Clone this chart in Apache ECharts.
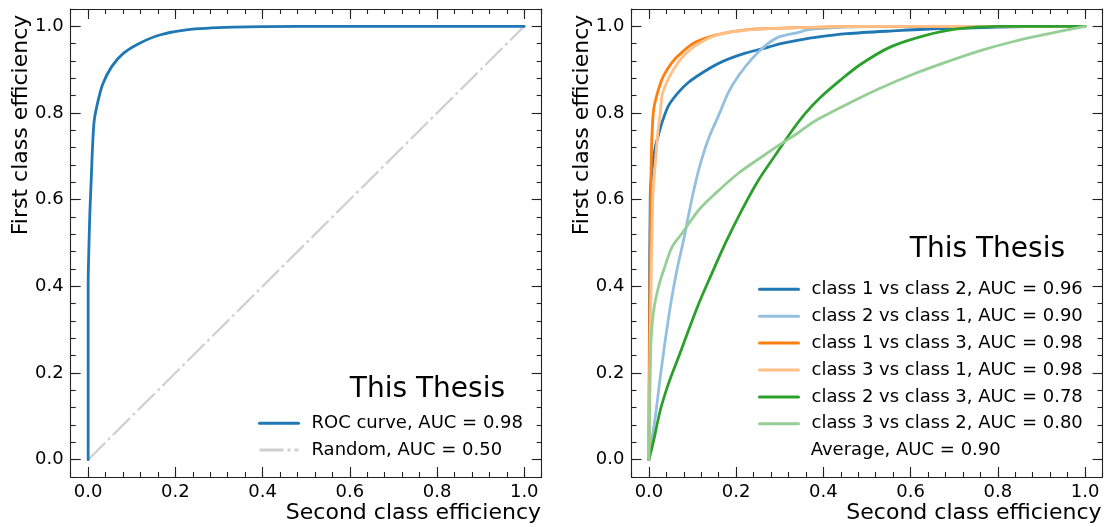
<!DOCTYPE html>
<html>
<head>
<meta charset="utf-8">
<script src="https://cdn.jsdelivr.net/npm/echarts@6/dist/echarts.min.js"></script>
<style>
html,body{margin:0;padding:0;background:#fff;}
#chart{width:1105px;height:527px;}
</style>
</head>
<body>
<div id="chart"></div>
<script>
// ---- data ----
const tickValues = [0, 0.2, 0.4, 0.6, 0.8, 1.0];

const rocX = [0, 0, 0.002, 0.004, 0.007, 0.010, 0.014, 0.023, 0.034, 0.054, 0.080, 0.118, 0.164, 0.225, 0.332, 0.485, 1.0];
const rocY = [0, 0.40, 0.50, 0.57, 0.645, 0.72, 0.783, 0.829, 0.868, 0.907, 0.937, 0.961, 0.980, 0.992, 0.998, 1.0, 1.0];
const randX = [0, 1];
const randY = [0, 1];

const c12X = [0, 0.001, 0.003, 0.007, 0.0146, 0.022, 0.030, 0.045, 0.068, 0.091, 0.129, 0.167, 0.221, 0.274, 0.302, 0.343, 0.378, 0.454, 0.569, 0.668, 0.80, 0.90, 1.0];
const c12Y = [0, 0.30, 0.607, 0.668, 0.722, 0.750, 0.778, 0.817, 0.848, 0.871, 0.897, 0.918, 0.938, 0.952, 0.960, 0.968, 0.974, 0.983, 0.990, 0.995, 0.998, 1.0, 1.0];

const c21X = [0, 0.003, 0.0146, 0.026, 0.0375, 0.050, 0.064, 0.0795, 0.091, 0.1024, 0.1177, 0.137, 0.1596, 0.1825, 0.2054, 0.236, 0.2665, 0.297, 0.343, 0.363, 0.45, 0.55, 1.0];
const c21Y = [0, 0.022, 0.099, 0.191, 0.276, 0.360, 0.437, 0.507, 0.565, 0.620, 0.682, 0.742, 0.794, 0.848, 0.886, 0.925, 0.955, 0.975, 0.986, 0.992, 0.998, 1.0, 1.0];

const c13X = [0, 0.001, 0.002, 0.004, 0.0055, 0.0075, 0.011, 0.022, 0.0337, 0.053, 0.0756, 0.106, 0.152, 0.221, 0.343, 0.5, 1.0];
const c13Y = [0, 0.2, 0.4, 0.6, 0.70, 0.76, 0.809, 0.855, 0.886, 0.917, 0.940, 0.963, 0.980, 0.992, 0.997, 1.0, 1.0];

const c31X = [0, 0.002, 0.004, 0.009, 0.0146, 0.020, 0.026, 0.030, 0.041, 0.0566, 0.0795, 0.106, 0.15, 0.22, 0.35, 0.5, 1.0];
const c31Y = [0, 0.2, 0.345, 0.607, 0.684, 0.75, 0.80, 0.840, 0.871, 0.901, 0.932, 0.955, 0.978, 0.991, 0.997, 1.0, 1.0];

const c23X = [0, 0.011, 0.026, 0.045, 0.068, 0.091, 0.115, 0.14, 0.175, 0.213, 0.251, 0.29, 0.33, 0.36, 0.393, 0.439, 0.485, 0.553, 0.630, 0.706, 0.798, 1.0];
const c23Y = [0, 0.045, 0.114, 0.176, 0.237, 0.299, 0.362, 0.420, 0.499, 0.576, 0.645, 0.703, 0.762, 0.801, 0.836, 0.876, 0.912, 0.952, 0.978, 0.994, 1.0, 1.0];

const c32X = [0, 0.002, 0.005, 0.011, 0.022, 0.0337, 0.053, 0.0756, 0.114, 0.152, 0.205, 0.259, 0.3016, 0.343, 0.378, 0.454, 0.530, 0.607, 0.683, 0.760, 0.836, 0.912, 1.0];
const c32Y = [0, 0.15, 0.28, 0.345, 0.399, 0.437, 0.491, 0.522, 0.576, 0.614, 0.661, 0.699, 0.728, 0.755, 0.780, 0.820, 0.857, 0.890, 0.918, 0.944, 0.965, 0.982, 1.0];

const leftNames = ['ROC curve, AUC = 0.98', 'Random, AUC = 0.50'];
const rightNames = ['class 1 vs class 2, AUC = 0.96', 'class 2 vs class 1, AUC = 0.90',
  'class 1 vs class 3, AUC = 0.98', 'class 3 vs class 1, AUC = 0.98',
  'class 2 vs class 3, AUC = 0.78', 'class 3 vs class 2, AUC = 0.80'];
const averageText = 'Average, AUC = 0.90';
const stampText = 'This Thesis';
const xTitle = 'Second class efficiency';
const yTitle = 'First class efficiency';

// ---- helpers ----
const FONT = 'DejaVu Sans';
const zip = (xs, ys) => xs.map((x, i) => [x, ys[i]]);
const AX = { min: -0.04, max: 1.04 };
const lineCol = '#222';

function axesFor(grid, dim) {
  const posMain = dim === 'x' ? 'bottom' : 'left';
  const posOpp = dim === 'x' ? 'top' : 'right';
  const major = (pos, labels) => ({
    gridIndex: grid, type: 'value', position: pos, min: AX.min, max: AX.max,
    axisLine: { show: true, onZero: false, lineStyle: { color: lineCol, width: 1.1 } },
    axisTick: { show: true, inside: true, length: 10, customValues: tickValues, lineStyle: { color: lineCol, width: 1.1 } },
    axisLabel: labels ? { show: true, customValues: tickValues, formatter: v => v.toFixed(1),
      fontSize: 18, color: '#000', fontFamily: FONT, margin: dim === 'x' ? 6 : 7 } : { show: false },
    splitLine: { show: false }, minorTick: { show: false }
  });
  const minor = (pos) => ({
    gridIndex: grid, type: 'value', position: pos, min: AX.min, max: AX.max, interval: 0.04,
    axisLine: { show: false, onZero: false },
    axisTick: { show: true, inside: true, length: 5, lineStyle: { color: lineCol, width: 1.1 } },
    axisLabel: { show: false }, splitLine: { show: false }
  });
  return [major(posMain, true), minor(posMain), major(posOpp, false), minor(posOpp)];
}

const xAxes = [...axesFor(0, 'x'), ...axesFor(1, 'x')];
const yAxes = [...axesFor(0, 'y'), ...axesFor(1, 'y')];

function lineSeries(name, xs, ys, color, gi, extra) {
  return Object.assign({
    name, type: 'line', data: zip(xs, ys), xAxisIndex: gi * 4, yAxisIndex: gi * 4,
    showSymbol: false, symbol: 'none', smooth: 0.3, animation: false,
    lineStyle: { color, width: 2.8, cap: 'round', join: 'round' },
    itemStyle: { color }
  }, extra || {});
}

const colors = {
  blue: '#1f77b4', lblue: '#94c0e0', orange: '#ff7f0e', lorange: '#ffbf86', green: '#2ca02c', lgreen: '#95cf95', grey: '#cfcfcf'
};

const series = [
  lineSeries(leftNames[1], randX, randY, colors.grey, 0, { smooth: false, lineStyle: { color: colors.grey, width: 2.2, type: [24, 4, 3, 4] } }),
  lineSeries(leftNames[0], rocX, rocY, colors.blue, 0),
  lineSeries(rightNames[0], c12X, c12Y, colors.blue, 1),
  lineSeries(rightNames[1], c21X, c21Y, colors.lblue, 1),
  lineSeries(rightNames[2], c13X, c13Y, colors.orange, 1),
  lineSeries(rightNames[3], c31X, c31Y, colors.lorange, 1),
  lineSeries(rightNames[4], c23X, c23Y, colors.green, 1),
  lineSeries(rightNames[5], c32X, c32Y, colors.lgreen, 1)
];

function legendAt(name, left, cy) {
  return {
    data: [name], left, top: cy - 9, orient: 'vertical', padding: 0,
    itemWidth: 39, itemHeight: 18, selectedMode: false,
    itemStyle: { opacity: 0, borderWidth: 0 },
    lineStyle: { width: 3 },
    textStyle: { fontSize: 18, color: '#000', fontFamily: FONT, padding: [0, 0, 0, 8] }
  };
}
const rightRows = [289.3, 316.2, 343.1, 370.0, 396.9, 423.8];
const legends = [
  legendAt(leftNames[0], 258, 423.3),
  legendAt(leftNames[1], 258, 450.0),
  ...rightNames.map((n, i) => legendAt(n, 758, rightRows[i]))
];

const txt = (text, x, y, size, align, rot) => ({
  type: 'text', x, y, rotation: rot || 0,
  style: { text, fontSize: size, fontFamily: FONT, fill: '#000', align: align, verticalAlign: 'middle' }
});

const chart = echarts.init(document.getElementById('chart'), null, { renderer: 'canvas' });
chart.setOption({
  backgroundColor: '#fff',
  animation: false,
  grid: [
    { left: 70.7, top: 9, width: 471, height: 468, containLabel: false },
    { left: 631.5, top: 9, width: 471, height: 468, containLabel: false }
  ],
  xAxis: xAxes,
  yAxis: yAxes,
  legend: legends,
  series,
  graphic: [
    txt(xTitle, 541, 513.5, 22, 'right'),
    txt(xTitle, 1101.5, 513.5, 22, 'right'),
    txt(yTitle, 21, 125, 22, 'center', Math.PI / 2),
    txt(yTitle, 581.8, 125, 22, 'center', Math.PI / 2),
    txt(stampText, 505, 389.5, 28, 'right'),
    txt(stampText, 1065, 250, 28, 'right'),
    txt(averageText, 810.7, 450.7, 18, 'left')
  ]
});
</script>
</body>
</html>
